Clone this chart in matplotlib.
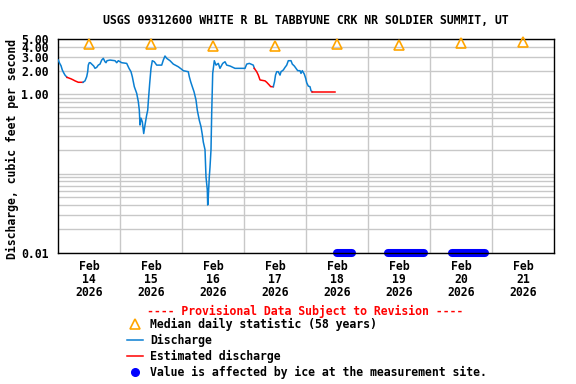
import matplotlib
matplotlib.use("Agg")
import matplotlib.pyplot as plt
from matplotlib.lines import Line2D

# ---------------- data ----------------
# hours since 2026-02-14 00:00
discharge_hours = [
    0.0, 0.54, 1.05, 1.55, 2.09, 2.59, 3.37, 4.92, 5.81, 6.46, 7.74, 9.56,
    10.34, 10.99, 11.38, 11.61, 12.0, 12.39, 12.93, 13.70, 14.21, 14.86, 15.48, 16.14,
    16.80, 17.42, 18.08, 18.46, 18.85, 20.01, 21.95, 22.61, 23.23, 24.54, 26.48, 27.37,
    28.14, 28.65, 29.42, 30.35, 30.97, 31.36, 31.63, 32.01, 32.52, 33.06, 33.56, 34.22,
    34.61, 34.84, 35.38, 35.88, 36.39, 37.16, 38.09, 40.03, 40.65, 41.30, 41.96, 43.24,
    44.52, 46.45, 47.77, 48.39, 50.32, 50.71, 51.25, 51.87, 52.53, 53.30, 53.81, 54.58,
    55.24, 55.74, 56.13, 56.79, 57.17, 57.68, 57.83, 58.06, 58.45, 58.72, 59.11, 59.38,
    59.77, 60.39, 61.05, 61.94, 62.59, 63.64, 64.53, 65.19, 66.47, 68.40, 72.27, 72.93,
    73.94, 75.48, 75.87, 76.80, 77.42, 78.08, 80.02, 80.67, 81.68, 82.22, 83.23, 83.69,
    84.08, 84.55, 85.16, 85.82, 86.21, 87.10, 87.76, 88.42, 89.03, 90.08, 90.58, 91.36,
    92.67, 93.56, 93.95, 94.45, 95.23, 95.77, 96.16, 96.78, 97.43, 97.82, 98.32, 107.1,
]
discharge_cfs = [
    2.71, 2.46, 2.30, 2.03, 1.87, 1.75, 1.64, 1.57, 1.52, 1.48, 1.42, 1.42,
    1.48, 1.67, 1.93, 2.34, 2.51, 2.51, 2.41, 2.28, 2.13, 2.19, 2.34, 2.41,
    2.71, 2.85, 2.58, 2.51, 2.66, 2.71, 2.66, 2.51, 2.66, 2.51, 2.46, 2.13,
    1.93, 1.67, 1.25, 1.03, 0.81, 0.63, 0.41, 0.50, 0.45, 0.32, 0.41, 0.55,
    0.63, 0.81, 1.38, 2.13, 2.66, 2.58, 2.34, 2.34, 2.71, 3.05, 2.85, 2.66,
    2.41, 2.23, 2.07, 1.99, 1.93, 1.67, 1.44, 1.25, 1.08, 0.85, 0.63, 0.47,
    0.39, 0.31, 0.25, 0.20, 0.091, 0.062, 0.040, 0.051, 0.091, 0.12, 0.20, 0.58,
    1.84, 2.66, 2.34, 2.46, 2.13, 2.46, 2.58, 2.34, 2.28, 2.13, 2.13, 2.41,
    2.46, 2.34, 2.13, 1.93, 1.75, 1.52, 1.48, 1.42, 1.31, 1.25, 1.25, 1.44,
    1.75, 1.93, 1.93, 1.75, 1.93, 2.03, 2.19, 2.34, 2.66, 2.66, 2.41, 2.28,
    1.99, 1.99, 1.84, 1.99, 1.80, 1.59, 1.40, 1.27, 1.25, 1.11, 1.08, 1.08,
]
# estimated-discharge periods (hours since Feb 14 00:00)
estimated_periods = [(3.37, 9.56), (75.87, 83.23), (98.32, 107.1)]
# ice-affected periods (hours since Feb 14 00:00), plotted at 0.01
ice_periods = [(108.0, 113.6), (127.7, 141.4), (152.5, 165.2)]
# median daily statistic, one per day at noon
median_hours = [12, 36, 60, 84, 108, 132, 156, 180]
median_cfs = [4.3, 4.3, 4.1, 4.1, 4.3, 4.2, 4.4, 4.6]

day_labels = ["Feb\n14\n2026", "Feb\n15\n2026", "Feb\n16\n2026", "Feb\n17\n2026",
              "Feb\n18\n2026", "Feb\n19\n2026", "Feb\n20\n2026", "Feb\n21\n2026"]
y_major = [0.01, 1, 2, 3, 4, 5]
y_major_labels = ["0.01", "1.00", "2.00", "3.00", "4.00", "5.00"]
y_minor = [0.02, 0.03, 0.04, 0.05, 0.06, 0.07, 0.08, 0.09, 0.1,
           0.2, 0.3, 0.4, 0.5, 0.6, 0.7, 0.8, 0.9]

title = "USGS 09312600 WHITE R BL TABBYUNE CRK NR SOLDIER SUMMIT, UT"
ylabel = "Discharge, cubic feet per second"

# ---------------- style ----------------
FONT = "DejaVu Sans Mono"
FS = 8.3
BLUE = "#0a7fd2"
RED = "#ff0000"
ORANGE = "#ffa500"
ICE = "#0000ff"
GRID = "#c8c8c8"

W, H = 576, 384
AX_W = 554.3 - 58.3
AX_H = 252.7 - 39
fig = plt.figure(figsize=(W / 100, H / 100), dpi=100)
ax = fig.add_axes([58.3 / W, 1 - 252.7 / H, AX_W / W, AX_H / H])
ax.set_yscale("log")
ax.set_xlim(0, 192)
ax.set_ylim(0.01, 5)

# discharge segments coloured by estimated flag
def is_est(h):
    return any(a <= h < b for a, b in estimated_periods)

n = len(discharge_hours)
start = 0
while start < n - 1:
    flag = is_est(discharge_hours[start])
    end = start
    while end < n - 1 and is_est(discharge_hours[end]) == flag:
        end += 1
    ax.plot(discharge_hours[start:end + 1], discharge_cfs[start:end + 1],
            color=RED if flag else BLUE, lw=1.1, zorder=3)
    start = end

# ice-affected
for a, b in ice_periods:
    ax.plot([a, b], [0.01, 0.01], color=ICE, lw=5.8, solid_capstyle="round",
            clip_on=False, zorder=2)

# medians
ax.plot(median_hours, median_cfs, ls="none", marker="^", ms=7.8, mfc="none",
        mec=ORANGE, mew=1.2, zorder=4, clip_on=False)

# axes / grid
ax.set_xticks([12 + 24 * i for i in range(8)])
ax.set_xticklabels(day_labels, fontfamily=FONT, fontweight="bold", fontsize=FS,
                   linespacing=0.98)
ax.set_xticks([24 * i for i in range(1, 8)], minor=True)
ax.set_yticks(y_major)
ax.set_yticklabels(y_major_labels, fontfamily=FONT, fontweight="bold", fontsize=FS)
ax.set_yticks(y_minor, minor=True)
ax.yaxis.set_minor_formatter(matplotlib.ticker.NullFormatter())
ax.tick_params(which="both", length=0)
ax.tick_params(axis="x", pad=5.5)
ax.tick_params(axis="y", pad=7)
ax.xaxis.grid(True, which="minor", color=GRID, lw=1.0)
ax.xaxis.grid(False, which="major")
ax.yaxis.grid(True, which="both", color=GRID, lw=1.0)
ax.set_axisbelow(True)
for s in ax.spines.values():
    s.set_linewidth(1.0)
    s.set_color("black")

ax.set_ylabel(ylabel, fontfamily=FONT, fontweight="bold", fontsize=FS)
ax.yaxis.set_label_coords(-39 / AX_W, 0.5 - 3.5 / AX_H)

fig.text(306 / W, 1 - 20 / H, title, ha="center", va="center", fontfamily=FONT,
         fontweight="bold", fontsize=FS)
fig.text(305 / W, 1 - 311 / H, "---- Provisional Data Subject to Revision ----",
         ha="center", va="center", fontfamily=FONT, fontweight="bold", fontsize=FS,
         color=RED)

# manual legend
tf = fig.transFigure
rows = [324, 340, 356, 372]
fig.add_artist(Line2D([135 / W], [1 - rows[0] / H], marker="^", ms=7.8, mfc="none",
                      mec=ORANGE, mew=1.2, transform=tf))
fig.add_artist(Line2D([127 / W, 143 / W], [1 - rows[1] / H] * 2, color=BLUE, lw=1.1,
                      transform=tf))
fig.add_artist(Line2D([127 / W, 143 / W], [1 - rows[2] / H] * 2, color=RED, lw=1.1,
                      transform=tf))
fig.add_artist(Line2D([135 / W], [1 - rows[3] / H], marker="o", ms=5.5, color=ICE,
                      ls="none", transform=tf))
labels = ["Median daily statistic (58 years)", "Discharge", "Estimated discharge",
          "Value is affected by ice at the measurement site."]
for r, t in zip(rows, labels):
    fig.text(150 / W, 1 - r / H, t, ha="left", va="center", fontfamily=FONT,
             fontweight="bold", fontsize=FS)

fig.savefig("out.png", dpi=100)
